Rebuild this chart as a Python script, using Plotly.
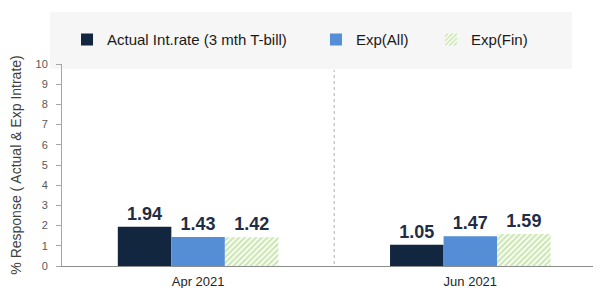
import plotly.graph_objects as go

categories = ["Apr 2021", "Jun 2021"]
actual = [1.94, 1.05]
exp_all = [1.43, 1.47]
exp_fin = [1.42, 1.59]
series_names = ["Actual Int.rate (3 mth T-bill)", "Exp(All)", "Exp(Fin)"]
y_ticks = list(range(0, 11))

FONT = "Liberation Sans, Arial, sans-serif"
lbl = dict(family=FONT, size=18, color="#1f2d45")
LEG_FONT = dict(family=FONT, size=15, color="#1a1a1a")

fig = go.Figure()
fig.add_trace(go.Bar(x=[0, 1], y=actual, name=series_names[0], legend="legend",
                     marker=dict(color="#13263f", line=dict(width=0)),
                     text=[f"{v:.2f}" for v in actual], textposition="outside",
                     textfont=lbl, texttemplate="<b>%{text}</b>", cliponaxis=False))
fig.add_trace(go.Bar(x=[0, 1], y=exp_all, name=series_names[1], legend="legend2",
                     marker=dict(color="#558ed5", line=dict(width=0)),
                     text=[f"{v:.2f}" for v in exp_all], textposition="outside",
                     textfont=lbl, texttemplate="<b>%{text}</b>", cliponaxis=False))
fig.add_trace(go.Bar(x=[0, 1], y=exp_fin, name=series_names[2], legend="legend3",
                     marker=dict(color="white", line=dict(width=0),
                                 pattern=dict(shape="/", fgcolor="#97cf62", bgcolor="white",
                                              size=4, solidity=0.55)),
                     text=[f"{v:.2f}" for v in exp_fin], textposition="outside",
                     textfont=lbl, texttemplate="<b>%{text}</b>", cliponaxis=False))

def leg(x):
    return dict(orientation="h", x=x, y=1.12, xanchor="left", yanchor="middle",
                bgcolor="rgba(0,0,0,0)", font=LEG_FONT, itemwidth=30)

fig.update_layout(
    width=593, height=280,
    margin=dict(l=54, r=0, t=56, b=22),
    paper_bgcolor="white", plot_bgcolor="white",
    barmode="group", bargap=0.41, bargroupgap=0,
    font=dict(family=FONT, color="#404040"),
    showlegend=True,
    legend=leg(0.0093), legend2=leg(0.4712), legend3=leg(0.6846),
    xaxis=dict(range=[-0.5, 1.48], tickmode="array", tickvals=[0, 1], ticktext=categories,
               showgrid=False, zeroline=False, showline=True, linecolor="#8c8c8c",
               linewidth=1, ticks="", ticklabelstandoff=3,
               tickfont=dict(family=FONT, size=13, color="#262626"),
               fixedrange=True),
    yaxis=dict(range=[0, 10], tickmode="array", tickvals=y_ticks, showgrid=False,
               zeroline=False, showline=True, linecolor="#a6a6a6", linewidth=1,
               ticks="outside", ticklen=5, tickcolor="#a6a6a6", ticklabelstandoff=6,
               tickfont=dict(family=FONT, size=11, color="#595959"),
               title=dict(text="% Response ( Actual & Exp Intrate)",
                          font=dict(family=FONT, size=14, color="#404040"), standoff=12)),
    shapes=[
        dict(type="rect", xref="paper", yref="paper", x0=-0.0223, x1=0.946,
             y0=0.975, y1=1.257, fillcolor="#f6f6f6", line=dict(width=0), layer="below"),
        dict(type="line", xref="x", yref="y", x0=0.5, x1=0.5, y0=-0.2, y1=9.7,
             line=dict(color="#b0b0b0", width=1, dash="dot"), layer="below"),
    ],
)

fig.write_html("out.html")
